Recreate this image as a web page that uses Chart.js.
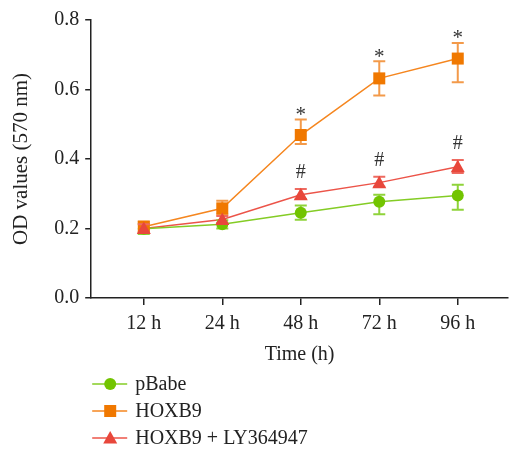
<!DOCTYPE html>
<html>
<head>
<meta charset="utf-8">
<script src="https://cdn.jsdelivr.net/npm/chart.js@4/dist/chart.umd.min.js"></script>
<style>
  html, body { margin: 0; padding: 0; background: #fff; }
  #wrap { width: 509px; height: 449px; }
</style>
</head>
<body>
<div id="wrap"><canvas id="odChart" width="509" height="449"></canvas></div>
<script>
const timeLabels = ['12 h', '24 h', '48 h', '72 h', '96 h'];

const pBabe    = [0.199, 0.212, 0.245, 0.277, 0.295];
const pBabeUp  = [0.015, 0.012, 0.021, 0.020, 0.031];
const pBabeLo  = [0.015, 0.012, 0.020, 0.036, 0.041];

const hoxb9    = [0.205, 0.258, 0.469, 0.632, 0.689];
const hoxb9Up  = [0.015, 0.022, 0.045, 0.049, 0.045];
const hoxb9Lo  = [0.015, 0.018, 0.026, 0.049, 0.068];

const hoxb9Ly   = [0.200, 0.226, 0.297, 0.332, 0.378];
const hoxb9LyUp = [0.012, 0.010, 0.017, 0.017, 0.019];
const hoxb9LyLo = [0.012, 0.010, 0.012, 0.012, 0.018];

const hoxb9Marks   = ['', '', '*', '*', '*'];
const hoxb9LyMarks = ['', '', '#', '#', '#'];

const serif = "'Liberation Serif', 'DejaVu Serif', serif";
const toPoints = arr => arr.map((v, i) => ({ x: i + 1, y: v }));

const series = [
  { label: 'pBabe', data: pBabe, up: pBabeUp, lo: pBabeLo, marks: null,
    line: '#84cc25', fill: '#72c400', err: '#8fd33a', style: 'circle' },
  { label: 'HOXB9', data: hoxb9, up: hoxb9Up, lo: hoxb9Lo, marks: hoxb9Marks,
    line: '#f5861f', fill: '#f07800', err: '#f39a4a', style: 'rect' },
  { label: 'HOXB9 + LY364947', data: hoxb9Ly, up: hoxb9LyUp, lo: hoxb9LyLo, marks: hoxb9LyMarks,
    line: '#ec5449', fill: '#e8473b', err: '#ee6a60', style: 'triangle' }
];

function drawMarker(ctx, style, x, y, color) {
  ctx.save();
  ctx.fillStyle = color;
  ctx.beginPath();
  if (style === 'circle') {
    ctx.arc(x, y, 6, 0, Math.PI * 2);
  } else if (style === 'rect') {
    ctx.rect(x - 6, y - 6, 12, 12);
  } else {
    ctx.moveTo(x, y - 7);
    ctx.lineTo(x + 7, y + 5.5);
    ctx.lineTo(x - 7, y + 5.5);
    ctx.closePath();
  }
  ctx.fill();
  ctx.restore();
}

// error bars + significance marks
const errorBars = {
  id: 'errorBars',
  afterDatasetsDraw(chart) {
    const ctx = chart.ctx;
    const xs = chart.scales.x, ys = chart.scales.y;
    series.forEach(s => {
      ctx.save();
      ctx.strokeStyle = s.err;
      ctx.lineWidth = 2;
      s.data.forEach((v, i) => {
        const px = xs.getPixelForValue(i + 1);
        const top = ys.getPixelForValue(v + s.up[i]);
        const bot = ys.getPixelForValue(v - s.lo[i]);
        ctx.beginPath();
        ctx.moveTo(px, top); ctx.lineTo(px, bot);
        ctx.moveTo(px - 6, top); ctx.lineTo(px + 6, top);
        ctx.moveTo(px - 6, bot); ctx.lineTo(px + 6, bot);
        ctx.stroke();
      });
      ctx.restore();
      s.data.forEach((v, i) => {
        drawMarker(ctx, s.style, xs.getPixelForValue(i + 1), ys.getPixelForValue(v), s.fill);
      });
      if (s.marks) {
        ctx.save();
        ctx.fillStyle = '#333';
        ctx.textAlign = 'center';
        ctx.textBaseline = 'middle';
        s.marks.forEach((m, i) => {
          if (!m) return;
          const px = xs.getPixelForValue(i + 1);
          const top = ys.getPixelForValue(s.data[i] + s.up[i]);
          ctx.font = (m === '*' ? '21px ' : '20px ') + serif;
          ctx.fillText(m, px, top + (m === '*' ? -4 : -16));
        });
        ctx.restore();
      }
    });
  }
};

// vertical legend under the axis title
const lineLegend = {
  id: 'lineLegend',
  afterDraw(chart) {
    const ctx = chart.ctx;
    const left = chart.chartArea.left + 1;
    series.forEach((s, i) => {
      const y = 384 + i * 27;
      ctx.save();
      ctx.strokeStyle = s.line;
      ctx.lineWidth = 1.5;
      ctx.beginPath();
      ctx.moveTo(left, y); ctx.lineTo(left + 35, y);
      ctx.stroke();
      ctx.restore();
      drawMarker(ctx, s.style, left + 18, y, s.fill);
      ctx.save();
      ctx.fillStyle = '#222';
      ctx.font = '20px ' + serif;
      ctx.textBaseline = 'middle';
      ctx.fillText(s.label, left + 43, y + 1);
      ctx.restore();
    });
  }
};

new Chart(document.getElementById('odChart'), {
  type: 'line',
  data: {
    datasets: series.map(s => ({
      label: s.label,
      data: toPoints(s.data),
      borderColor: s.line,
      backgroundColor: s.fill,
      borderWidth: 1.5,
      pointRadius: 0,
      tension: 0
    }))
  },
  options: {
    responsive: false,
    animation: false,
    layout: { padding: { top: 20, right: 1, bottom: 82, left: 9 } },
    plugins: { legend: { display: false }, tooltip: { enabled: false } },
    scales: {
      x: {
        type: 'linear',
        min: 0.33,
        max: 5.64,
        afterBuildTicks: axis => { axis.ticks = timeLabels.map((_, i) => ({ value: i + 1 })); },
        grid: { drawOnChartArea: false, drawTicks: true, tickLength: 7, color: '#222', lineWidth: 1.5 },
        border: { display: true, color: '#222', width: 1.5 },
        ticks: {
          color: '#222', font: { family: serif, size: 20 }, padding: 7, maxRotation: 0,
          callback: v => timeLabels[v - 1]
        },
        title: { display: true, text: 'Time (h)', color: '#222', font: { family: serif, size: 20 }, padding: { top: 0, bottom: 0 } }
      },
      y: {
        min: 0,
        max: 0.8,
        grid: { drawOnChartArea: false, drawTicks: true, tickLength: 6, color: '#222', lineWidth: 1.5 },
        border: { display: true, color: '#222', width: 1.5 },
        ticks: {
          stepSize: 0.2, color: '#222', font: { family: serif, size: 20 }, padding: 6,
          callback: v => v.toFixed(1)
        },
        title: { display: true, text: 'OD values (570 nm)', color: '#222', font: { family: serif, size: 21 }, padding: { top: 0, bottom: 14 } }
      }
    }
  },
  plugins: [errorBars, lineLegend]
});
</script>
</body>
</html>
